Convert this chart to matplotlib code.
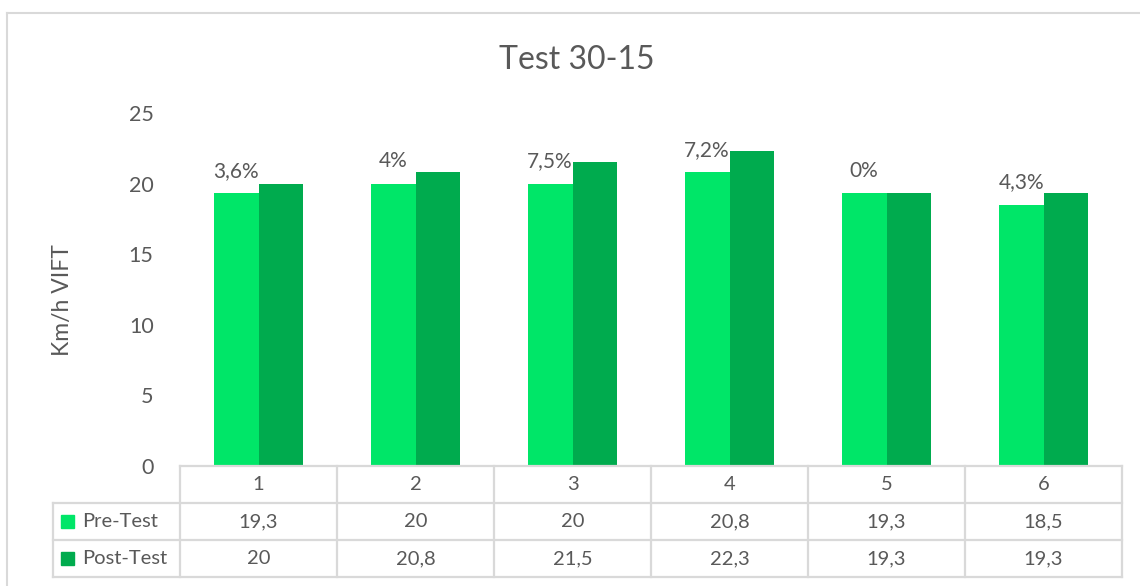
import matplotlib
matplotlib.use('Agg')
import matplotlib.pyplot as plt
import matplotlib.transforms as mtransforms
from matplotlib.lines import Line2D
from matplotlib.patches import Rectangle
import numpy as np

plt.rcParams['font.family'] = ['Lato', 'DejaVu Sans']

categories = ['1', '2', '3', '4', '5', '6']
pre_test = [19.3, 20, 20, 20.8, 19.3, 18.5]
post_test = [20, 20.8, 21.5, 22.3, 19.3, 19.3]
pre_text = ['19,3', '20', '20', '20,8', '19,3', '18,5']
post_text = ['20', '20,8', '21,5', '22,3', '19,3', '19,3']
gains = ['3,6%', '4%', '7,5%', '7,2%', '0%', '4,3%']
series = ['Pre-Test', 'Post-Test']

W, H = 1140, 586
c_pre = '#00e668'
c_post = '#00ab4e'
c_txt = '#595959'
c_grid = '#d9d9d9'
fs = 14.5

def fx(x):
    return x / W

def fy(y):
    return 1 - y / H

fig = plt.figure(figsize=(W / 100, H / 100), dpi=100)
ax = fig.add_axes([fx(180), fy(466), fx(1122) - fx(180), fy(113) - fy(466)])

x = np.arange(len(categories))
bw = 0.285
ax.bar(x - bw / 2, pre_test, bw, color=c_pre)
ax.bar(x + bw / 2, post_test, bw, color=c_post)
ax.set_xlim(-0.5, len(categories) - 0.5)
ax.set_ylim(0, 25)
ax.set_yticks([0, 5, 10, 15, 20, 25])
ax.set_xticks([])
for s in ax.spines.values():
    s.set_visible(False)
ax.tick_params(axis='y', length=0, pad=19, labelsize=15.5, labelcolor=c_txt)

for i, g in enumerate(gains):
    ax.annotate(g, (x[i] - bw / 2, pre_test[i]), xytext=(0, 9), textcoords='offset points',
                ha='center', va='bottom', fontsize=15, color=c_txt)

fig.text(fx(577), fy(60), 'Test 30-15', ha='center', va='center', fontsize=23, color=c_txt)
fig.text(fx(63), fy(300), 'Km/h VIFT', rotation=90, ha='center', va='center', fontsize=16.5, color=c_txt)

# data table under the axis
tf = fig.transFigure
lw = 1.6
rows_y = [466, 503, 540, 577]
for k, yy in enumerate(rows_y):
    x0 = 180 if k == 0 else 53
    fig.add_artist(Line2D([fx(x0), fx(1122)], [fy(yy), fy(yy)], transform=tf, color=c_grid, lw=lw))
fig.add_artist(Line2D([fx(53), fx(53)], [fy(503), fy(577)], transform=tf, color=c_grid, lw=lw))
for j in range(len(categories) + 1):
    xx = 180 + j * (1122 - 180) / len(categories)
    fig.add_artist(Line2D([fx(xx), fx(xx)], [fy(466), fy(577)], transform=tf, color=c_grid, lw=lw))

bt = mtransforms.blended_transform_factory(ax.transData, tf)
for i in range(len(categories)):
    fig.text(x[i], fy(485), categories[i], transform=bt, ha='center', va='center', fontsize=fs, color=c_txt)
    fig.text(x[i], fy(521.5), pre_text[i], transform=bt, ha='center', va='center', fontsize=fs, color=c_txt)
    fig.text(x[i], fy(558.5), post_text[i], transform=bt, ha='center', va='center', fontsize=fs, color=c_txt)

for k, (name, col) in enumerate(zip(series, [c_pre, c_post])):
    yc = 521.5 + k * 37
    fig.add_artist(Rectangle((fx(61), fy(yc + 6.5)), fx(13), 13 / H, transform=tf, color=col))
    fig.text(fx(82), fy(yc), name, ha='left', va='center', fontsize=fs, color=c_txt)

# chart frame
fig.add_artist(Line2D([fx(7), fx(7)], [fy(13), 0], transform=tf, color=c_grid, lw=1.5))
fig.add_artist(Line2D([fx(7), 1], [fy(13), fy(13)], transform=tf, color=c_grid, lw=1.5))

fig.savefig('out.png', dpi=100)
